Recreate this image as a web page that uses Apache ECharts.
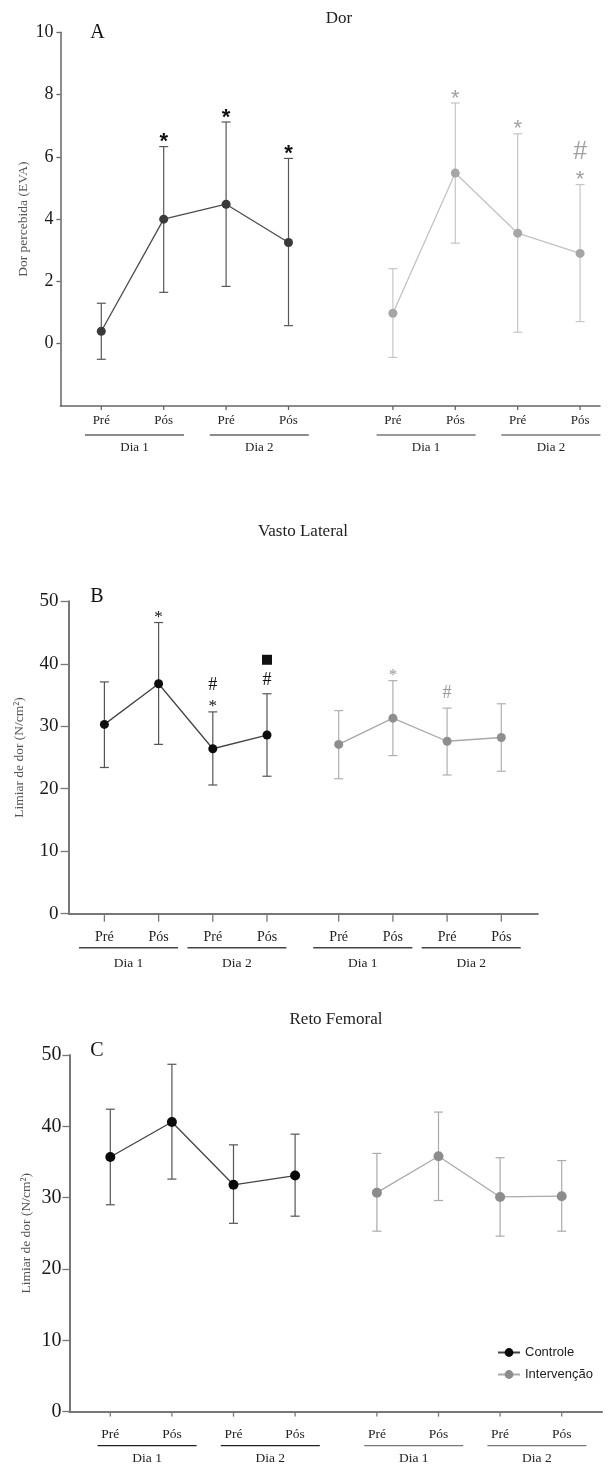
<!DOCTYPE html>
<html>
<head>
<meta charset="utf-8">
<script src="https://cdn.jsdelivr.net/npm/echarts@6/dist/echarts.min.js"></script>
<style>
html, body { margin: 0; padding: 0; background: #fff; }
#chart { width: 611px; height: 1468px; }
</style>
</head>
<body>
<div id="chart"></div>
<script>
// categories
const phases = ['Pré', 'Pós', 'Pré', 'Pós'];
const days = ['Dia 1', 'Dia 2'];
const groups = ['Controle', 'Intervenção'];

// tick labels
const dorTicks = [0, 2, 4, 6, 8, 10];
const limiarTicks = [0, 10, 20, 30, 40, 50];

// A - Dor (EVA): mean and ends of the error bars
const dorCtrlMean = [0.40, 4.00, 4.48, 3.25];
const dorCtrlLow = [-0.50, 1.65, 1.84, 0.58];
const dorCtrlHigh = [1.30, 6.33, 7.12, 5.95];
const dorIntMean = [0.98, 5.48, 3.55, 2.90];
const dorIntLow = [-0.44, 3.23, 0.37, 0.71];
const dorIntHigh = [2.41, 7.73, 6.74, 5.11];
const dorCtrlMarks = ['', '*', '*', '*'];
const dorIntMarks = ['', '*', '*', '*#'];

// B - Vasto Lateral (N/cm2)
const vlCtrlMean = [30.3, 36.8, 26.4, 28.6];
const vlCtrlLow = [23.4, 27.1, 20.6, 22.0];
const vlCtrlHigh = [37.1, 46.6, 32.3, 35.2];
const vlIntMean = [27.1, 31.3, 27.6, 28.2];
const vlIntLow = [21.6, 25.3, 22.2, 22.8];
const vlIntHigh = [32.5, 37.3, 32.9, 33.6];
const vlCtrlMarks = ['', '*', '*#', '#■'];
const vlIntMarks = ['', '*', '#', ''];

// C - Reto Femoral (N/cm2)
const rfCtrlMean = [35.7, 40.6, 31.8, 33.1];
const rfCtrlLow = [29.0, 32.6, 26.4, 27.4];
const rfCtrlHigh = [42.4, 48.7, 37.4, 38.9];
const rfIntMean = [30.7, 35.8, 30.1, 30.2];
const rfIntLow = [25.3, 29.6, 24.6, 25.3];
const rfIntHigh = [36.2, 42.0, 35.6, 35.2];

const SERIF = '"Liberation Serif", "Times New Roman", serif';
const SANS = '"Liberation Sans", Arial, sans-serif';

const panels = [
  {
    title: 'Dor', titlePos: [339, 19], letter: 'A', letterPos: [97.5, 33],
    yName: 'Dor percebida (EVA)', nameGap: 30, ticks: dorTicks, yMin: -2, yMax: 10, yInterval: 2,
    grid: { left: 60.4, top: 32.3, width: 539.6, height: 373.7 }, first: 40.9, step: 62.4, gap: 104.4,
    axis: { color: '#666', width: 1.5, tick: 4, labelSize: 18, margin: 7 },
    xl: { tick: 4, lab: 15, line: 29, dia: 42, labSize: 13, diaSize: 13, shift: 2, len: 99, ctrlLine: '#666', intLine: '#777' },
    series: [
      { name: 'Controle A', mean: dorCtrlMean, low: dorCtrlLow, high: dorCtrlHigh, marks: dorCtrlMarks,
        dot: '#3a3a3a', line: '#4c4c4c', err: '#575757', size: 9, markColor: '#111',
        glyphs: { '*': { h: 10, gapFirst: 4.5, size: 22, family: SANS, weight: 'bold', dy: 0.23 } } },
      { name: 'Intervenção A', mean: dorIntMean, low: dorIntLow, high: dorIntHigh, marks: dorIntMarks,
        dot: '#a6a6a6', line: '#c2c2c2', err: '#c6c6c6', size: 9, markColor: '#a0a0a0',
        glyphs: { '*': { h: 10, gapFirst: 4.5, size: 22, family: SANS, weight: 'normal', dy: 0.23 },
                  '#': { h: 18, gapFirst: 6, size: 25, family: SANS, weight: 'normal', dy: 0 } } }
    ],
    stackGap: 9
  },
  {
    title: 'Vasto Lateral', titlePos: [303, 532], letter: 'B', letterPos: [97, 597],
    yName: 'Limiar de dor (N/cm²)', nameGap: 42, ticks: limiarTicks, yMin: 0, yMax: 50, yInterval: 10,
    grid: { left: 68.6, top: 601.3, width: 469.2, height: 312.4 }, first: 35.8, step: 54.2, gap: 71.7,
    axis: { color: '#777', width: 2, tick: 8, labelSize: 19, margin: 10 },
    xl: { tick: 8, lab: 24, line: 34, dia: 50, labSize: 14, diaSize: 13.5, shift: -3, len: 99, ctrlLine: '#444', intLine: '#444' },
    series: [
      { name: 'Controle B', mean: vlCtrlMean, low: vlCtrlLow, high: vlCtrlHigh, marks: vlCtrlMarks,
        dot: '#0d0d0d', line: '#444', err: '#555', size: 9, markColor: '#111',
        glyphs: { '*': { h: 8, gapFirst: 4, size: 17, family: SERIF, weight: 'normal', dy: 0.17 },
                  '#': { h: 12, gapFirst: 8, size: 18, family: SERIF, weight: 'normal', dy: 0 },
                  '■': { h: 10, gapFirst: 8 } } },
      { name: 'Intervenção B', mean: vlIntMean, low: vlIntLow, high: vlIntHigh, marks: vlIntMarks,
        dot: '#8e8e8e', line: '#a8a8a8', err: '#b0b0b0', size: 9, markColor: '#9a9a9a',
        glyphs: { '*': { h: 8, gapFirst: 4, size: 17, family: SERIF, weight: 'normal', dy: 0.17 },
                  '#': { h: 12, gapFirst: 9, size: 18, family: SERIF, weight: 'normal', dy: 0 } } }
    ],
    stackGap: 9
  },
  {
    title: 'Reto Femoral', titlePos: [336, 1020], letter: 'C', letterPos: [97, 1051],
    yName: 'Limiar de dor (N/cm²)', nameGap: 36, ticks: limiarTicks, yMin: 0, yMax: 50, yInterval: 10,
    grid: { left: 69.4, top: 1055, width: 532.6, height: 356.6 }, first: 40.9, step: 61.6, gap: 81.8,
    axis: { color: '#777', width: 2, tick: 7, labelSize: 20, margin: 8 },
    xl: { tick: 5, lab: 23, line: 34, dia: 47, labSize: 13.5, diaSize: 13.5, shift: 6, len: 99, ctrlLine: '#222', intLine: '#777' },
    series: [
      { name: groups[0], mean: rfCtrlMean, low: rfCtrlLow, high: rfCtrlHigh, marks: null,
        dot: '#0a0a0a', line: '#444', err: '#555', size: 10 },
      { name: groups[1], mean: rfIntMean, low: rfIntLow, high: rfIntHigh, marks: null,
        dot: '#8c8c8c', line: '#aaa', err: '#aaa', size: 10 }
    ],
    stackGap: 9
  }
];

const grids = [], xAxes = [], yAxes = [], series = [], graphics = [];

panels.forEach((p, pi) => {
  const extra = p.gap / p.step - 1;
  const xs = [0, 1, 2, 3, 4, 5, 6, 7].map(i => i + (i >= 4 ? extra : 0));
  const xMin = -p.first / p.step;
  const xMax = (p.grid.width - p.first) / p.step;

  grids.push(Object.assign({ containLabel: false }, p.grid));

  xAxes.push({
    type: 'value', gridIndex: pi, min: xMin, max: xMax,
    axisLine: { show: true, onZero: false, lineStyle: { color: p.axis.color, width: p.axis.width } },
    axisTick: { show: false }, axisLabel: { show: false }, splitLine: { show: false }
  });

  yAxes.push({
    type: 'value', gridIndex: pi, min: p.yMin, max: p.yMax, interval: p.yInterval,
    name: p.yName, nameLocation: 'middle', nameRotate: 90, nameGap: p.nameGap, nameMoveOverlap: false,
    nameTextStyle: { fontFamily: SERIF, fontSize: 13.5, color: '#555' },
    axisLine: { show: true, onZero: false, lineStyle: { color: p.axis.color, width: p.axis.width } },
    axisTick: { show: true, length: p.axis.tick, customValues: p.ticks, lineStyle: { color: p.axis.color, width: 1.3 } },
    axisLabel: { customValues: p.ticks, margin: p.axis.margin, fontFamily: SERIF, fontSize: p.axis.labelSize, color: '#1a1a1a' },
    splitLine: { show: false }
  });

  p.series.forEach((s, si) => {
    const sx = xs.slice(si * 4, si * 4 + 4);

    series.push({
      type: 'custom', xAxisIndex: pi, yAxisIndex: pi, silent: true, z: 2,
      data: s.mean.map((m, i) => [sx[i], s.low[i], s.high[i]]),
      renderItem: (params, api) => {
        const lo = api.coord([api.value(0), api.value(1)]);
        const hi = api.coord([api.value(0), api.value(2)]);
        const w = 4.5;
        const style = { stroke: s.err, lineWidth: 1.2 };
        return {
          type: 'group', children: [
            { type: 'line', shape: { x1: lo[0], y1: lo[1], x2: hi[0], y2: hi[1] }, style },
            { type: 'line', shape: { x1: hi[0] - w, y1: hi[1], x2: hi[0] + w, y2: hi[1] }, style },
            { type: 'line', shape: { x1: lo[0] - w, y1: lo[1], x2: lo[0] + w, y2: lo[1] }, style }
          ]
        };
      }
    });

    series.push({
      name: s.name, type: 'line', xAxisIndex: pi, yAxisIndex: pi, z: 3,
      data: s.mean.map((m, i) => [sx[i], m]),
      symbol: 'circle', symbolSize: s.size, showSymbol: true,
      lineStyle: { color: s.line, width: 1.3 },
      itemStyle: { color: s.dot },
      emphasis: { disabled: true }, animation: false
    });

    if (s.marks) {
      series.push({
        type: 'custom', xAxisIndex: pi, yAxisIndex: pi, silent: true, z: 4,
        data: s.high.map((h, i) => [sx[i], h]),
        renderItem: (params, api) => {
          const list = Array.from(s.marks[params.dataIndex]);
          if (!list.length) return null;
          const pt = api.coord([api.value(0), api.value(1)]);
          let edge = pt[1];
          const children = [];
          list.forEach((m, k) => {
            const g = s.glyphs[m];
            const cy = edge - (k === 0 ? g.gapFirst : p.stackGap) - g.h / 2;
            edge = cy - g.h / 2;
            if (m === '■') {
              children.push({ type: 'rect', shape: { x: pt[0] - g.h / 2, y: cy - g.h / 2, width: g.h, height: g.h }, style: { fill: s.markColor } });
            } else {
              children.push({
                type: 'text', x: pt[0], y: cy + g.dy * g.size,
                style: { text: m, fontFamily: g.family, fontSize: g.size, fontWeight: g.weight, fill: s.markColor, align: 'center', verticalAlign: 'middle' }
              });
            }
          });
          return { type: 'group', children };
        }
      });
    }
  });

  // x tick marks, Pré/Pós labels, day underlines and Dia labels
  series.push({
    type: 'custom', xAxisIndex: pi, yAxisIndex: pi, silent: true, clip: false, z: 5,
    data: [[xs[0], xs[1]], [xs[2], xs[3]], [xs[4], xs[5]], [xs[6], xs[7]]],
    encode: { x: [0, 1] },
    renderItem: (params, api) => {
      const st = p.xl;
      const gi = params.dataIndex;
      const a = api.coord([api.value(0), p.yMin]);
      const b = api.coord([api.value(1), p.yMin]);
      const y0 = a[1];
      const cx = (a[0] + b[0]) / 2 + st.shift;
      const tickStyle = { stroke: p.axis.color, lineWidth: 1.3 };
      const txt = (t, x, y, fs) => ({
        type: 'text', x, y,
        style: { text: t, fontFamily: SERIF, fontSize: fs, fill: '#222', align: 'center', verticalAlign: 'middle' }
      });
      return {
        type: 'group', children: [
          { type: 'line', shape: { x1: a[0], y1: y0, x2: a[0], y2: y0 + st.tick }, style: tickStyle },
          { type: 'line', shape: { x1: b[0], y1: y0, x2: b[0], y2: y0 + st.tick }, style: tickStyle },
          txt(phases[(gi % 2) * 2], a[0], y0 + st.lab, st.labSize),
          txt(phases[(gi % 2) * 2 + 1], b[0], y0 + st.lab, st.labSize),
          { type: 'line', shape: { x1: cx - st.len / 2, y1: y0 + st.line, x2: cx + st.len / 2, y2: y0 + st.line },
            style: { stroke: gi < 2 ? st.ctrlLine : st.intLine, lineWidth: 1.4 } },
          txt(days[gi % 2], cx, y0 + st.dia, st.diaSize)
        ]
      };
    }
  });

  graphics.push({
    type: 'text', x: p.titlePos[0], y: p.titlePos[1],
    style: { text: p.title, fontFamily: SERIF, fontSize: 17, fill: '#222', align: 'center', verticalAlign: 'middle' }
  });
  graphics.push({
    type: 'text', x: p.letterPos[0], y: p.letterPos[1],
    style: { text: p.letter, fontFamily: SERIF, fontSize: 20, fill: '#111', align: 'center', verticalAlign: 'middle' }
  });
});

const chart = echarts.init(document.getElementById('chart'));
chart.setOption({
  animation: false,
  backgroundColor: '#fff',
  grid: grids,
  xAxis: xAxes,
  yAxis: yAxes,
  series: series,
  graphic: graphics,
  legend: {
    data: groups, orient: 'vertical', left: 492, top: 1341,
    itemWidth: 22, itemHeight: 11, itemGap: 9, selectedMode: false,
    textStyle: { fontFamily: SANS, fontSize: 13, color: '#222' }
  }
});

window.addEventListener('resize', () => chart.resize());
</script>
</body>
</html>
